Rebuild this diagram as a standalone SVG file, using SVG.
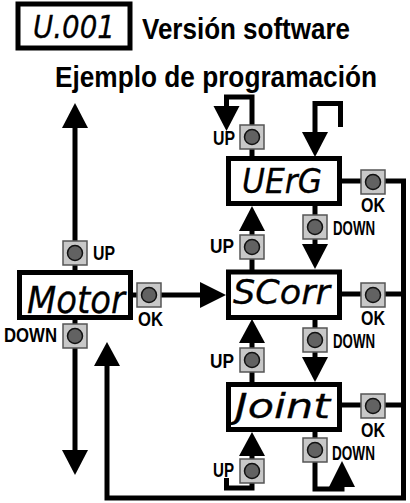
<svg xmlns="http://www.w3.org/2000/svg" width="410" height="503" viewBox="0 0 410 503">
<style>
.box{fill:#fff;stroke:#000;stroke-width:5}
.seg{font-family:"DejaVu Sans","Liberation Sans",sans-serif;font-weight:200;font-style:italic;fill:#000;stroke:#000;stroke-width:0.3}
.title{font-family:"Liberation Sans",Arial,sans-serif;font-weight:bold;font-size:29px;fill:#000}
.lbl{font-family:"Liberation Sans",Arial,sans-serif;font-weight:bold;font-size:21px;fill:#000}
.btn{fill:#c8c8c8;stroke:#555;stroke-width:1.5}
.dot{fill:#626262;stroke:#111;stroke-width:1.5}
.ln{fill:none;stroke:#000;stroke-width:5}
.ah{fill:#000}
</style>
<defs>
<g id="button"><rect class="btn" x="-12" y="-12" width="24" height="24"/><circle class="dot" cx="0" cy="0" r="7.5"/></g>
</defs>

<g id="connectors">
<path class="ln" d="M75,128 V272"/>
<polygon class="ah" points="62,128 88,128 75,103"/>
<path class="ln" d="M75,318 V451"/>
<polygon class="ah" points="62,450 88,450 75,475"/>
<path class="ln" d="M131,295 H201"/>
<polygon class="ah" points="200,282 200,308 226,295"/>
<path class="ln" d="M252,158 V97 H226.5 V107"/>
<polygon class="ah" points="213.5,106 239.5,106 226.5,131"/>
<path class="ln" d="M340.5,127 V103.5 H315 V133"/>
<polygon class="ah" points="302,132 328,132 315,157"/>
<path class="ln" d="M315,205 V245"/>
<polygon class="ah" points="302,244 328,244 315,269"/>
<path class="ln" d="M252,271 V230"/>
<polygon class="ah" points="239,231 265,231 252,206"/>
<path class="ln" d="M315,318 V358"/>
<polygon class="ah" points="302,357 328,357 315,382"/>
<path class="ln" d="M252,384 V342"/>
<polygon class="ah" points="239,343 265,343 252,319"/>
<path class="ln" d="M252,456 V488 H226.5 V478"/>
<polygon class="ah" points="239,456 265,456 252,432"/>
<path class="ln" d="M315,430 V489 H342 V485"/>
<polygon class="ah" points="329,487 355,487 342,461"/>
<path class="ln" d="M340,181 H403.5 V498 H107 V366"/>
<path class="ln" d="M340,294 H403.5"/>
<path class="ln" d="M340,405 H403.5"/>
<polygon class="ah" points="94,366 120,366 107,342"/>
</g>

<g id="version">
<rect class="box" x="18" y="4" width="112" height="44"/>
<text class="seg" x="33" y="38" font-size="32" textLength="82" lengthAdjust="spacingAndGlyphs">U.001</text>
<text class="title" x="142" y="39" textLength="208" lengthAdjust="spacingAndGlyphs">Versión software</text>
</g>
<text class="title" x="55" y="87" textLength="322" lengthAdjust="spacingAndGlyphs">Ejemplo de programación</text>

<g id="motor">
<rect class="box" x="19.5" y="272.5" width="111" height="45"/>
<text class="seg" x="27" y="313" font-size="38" textLength="98" lengthAdjust="spacingAndGlyphs">Motor</text>
</g>
<g id="verg">
<rect class="box" x="228.5" y="158.5" width="111" height="45"/>
<text class="seg" x="242" y="193" font-size="33" textLength="80" lengthAdjust="spacingAndGlyphs">UErG</text>
</g>
<g id="scorr">
<rect class="box" x="228.5" y="272" width="111" height="45.5"/>
<text class="seg" x="233" y="304" font-size="33" textLength="97" lengthAdjust="spacingAndGlyphs">SCorr</text>
</g>
<g id="joint">
<rect class="box" x="228.5" y="384.5" width="111" height="45"/>
<text class="seg" x="235" y="418" font-size="33" textLength="95" lengthAdjust="spacingAndGlyphs">Joint</text>
</g>

<g id="motor-up"><use href="#button" x="75" y="253"/><text class="lbl" x="93" y="260" textLength="22" lengthAdjust="spacingAndGlyphs">UP</text></g>
<g id="motor-down"><use href="#button" x="75" y="336"/><text class="lbl" x="4" y="342" textLength="53" lengthAdjust="spacingAndGlyphs">DOWN</text></g>
<g id="motor-ok"><use href="#button" x="149" y="295"/><text class="lbl" x="138" y="326" textLength="25" lengthAdjust="spacingAndGlyphs">OK</text></g>

<g id="verg-up"><use href="#button" x="252" y="137"/><text class="lbl" x="213" y="145" textLength="22" lengthAdjust="spacingAndGlyphs">UP</text></g>
<g id="verg-ok"><use href="#button" x="373" y="182"/><text class="lbl" x="361" y="212" textLength="24" lengthAdjust="spacingAndGlyphs">OK</text></g>
<g id="verg-down"><use href="#button" x="315" y="227"/><text class="lbl" x="333" y="235" textLength="42" lengthAdjust="spacingAndGlyphs">DOWN</text></g>

<g id="scorr-up"><use href="#button" x="252" y="247"/><text class="lbl" x="210" y="253" textLength="24" lengthAdjust="spacingAndGlyphs">UP</text></g>
<g id="scorr-ok"><use href="#button" x="373" y="295"/><text class="lbl" x="361" y="325" textLength="24" lengthAdjust="spacingAndGlyphs">OK</text></g>
<g id="scorr-down"><use href="#button" x="315" y="340"/><text class="lbl" x="333" y="348" textLength="42" lengthAdjust="spacingAndGlyphs">DOWN</text></g>

<g id="joint-up"><use href="#button" x="252" y="360"/><text class="lbl" x="210" y="368" textLength="24" lengthAdjust="spacingAndGlyphs">UP</text></g>
<g id="joint-ok"><use href="#button" x="373" y="406"/><text class="lbl" x="361" y="437" textLength="24" lengthAdjust="spacingAndGlyphs">OK</text></g>
<g id="joint-down"><use href="#button" x="315" y="450"/><text class="lbl" x="332" y="460" textLength="43" lengthAdjust="spacingAndGlyphs">DOWN</text></g>
<g id="joint-up2"><use href="#button" x="252" y="471"/><text class="lbl" x="213" y="477" textLength="21" lengthAdjust="spacingAndGlyphs">UP</text></g>
</svg>
